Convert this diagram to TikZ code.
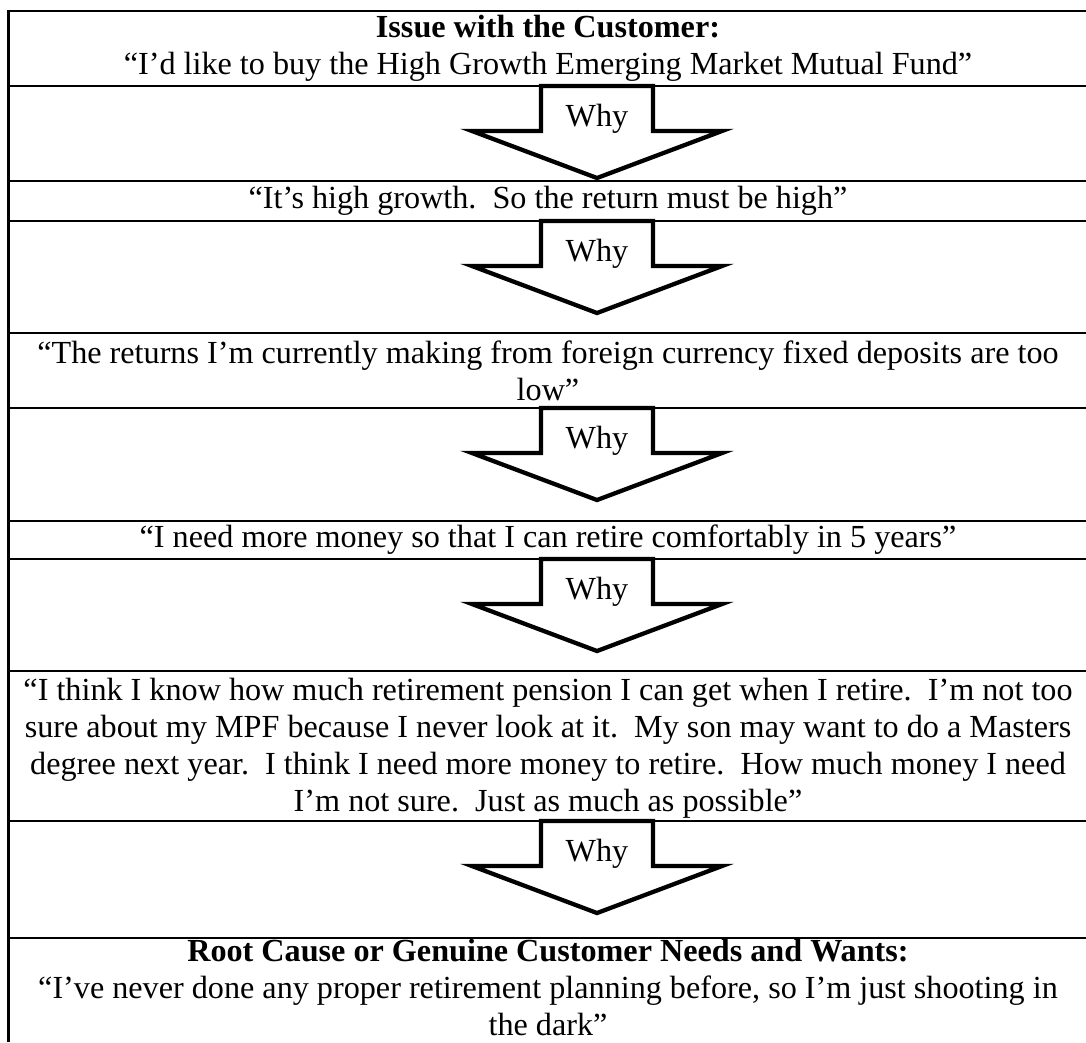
\documentclass[tikz,border=0pt]{standalone}
\usepackage{fontspec}
\setmainfont{Liberation Serif}
\begin{document}
\begin{tikzpicture}[x=0.01311cm,y=-0.01311cm,
  rowline/.style={line width=0.75pt},
  whyarrow/.style={line width=1.6pt,fill=white,line join=miter},
  cell/.style={align=center,inner sep=0pt,font=\fontsize{12}{13.8}\selectfont}]
\useasboundingbox (0,0) rectangle (1086,1042);
\draw [rowline] (8.5,1042) -- (8.5,11) -- (1086,11);
\foreach \y in {86,181,221,333,408,521,559,671,821,938}
  \draw [rowline] (8,\y) -- (1086,\y);
\foreach \y/\n in {86/1,221/2,408/3,559/4,821/5}
{
  \draw [whyarrow] (541,\y) -- (653,\y) -- (653,\y+45) -- (722,\y+45) -- (597,\y+92) -- (472,\y+45) -- (541,\y+45) -- cycle;
  \node [cell] (why\n) at (597,\y+33) {Why};
}
\node [cell] (issue) at (548,48) {\textbf{Issue with the Customer:}\\``I'd like to buy the High Growth Emerging Market Mutual Fund''};
\node [cell] (growth) at (548,201) {``It's high growth.\ \ So the return must be high''};
\node [cell] (returns) at (548,371) {``The returns I'm currently making from foreign currency fixed deposits are too\\low''};
\node [cell] (money) at (548,540) {``I need more money so that I can retire comfortably in 5 years''};
\node [cell] (pension) at (548,748) {``I think I know how much retirement pension I can get when I retire.\ \ I'm not too\\
sure about my MPF because I never look at it.\ \ My son may want to do a Masters\\
degree next year.\ \ I think I need more money to retire.\ \ How much money I need\\
I'm not sure.\ \ Just as much as possible''};
\node [cell] (root) at (548,987) {\textbf{Root Cause or Genuine Customer Needs and Wants:}\\``I've never done any proper retirement planning before, so I'm just shooting in\\the dark''};
\end{tikzpicture}
\end{document}
